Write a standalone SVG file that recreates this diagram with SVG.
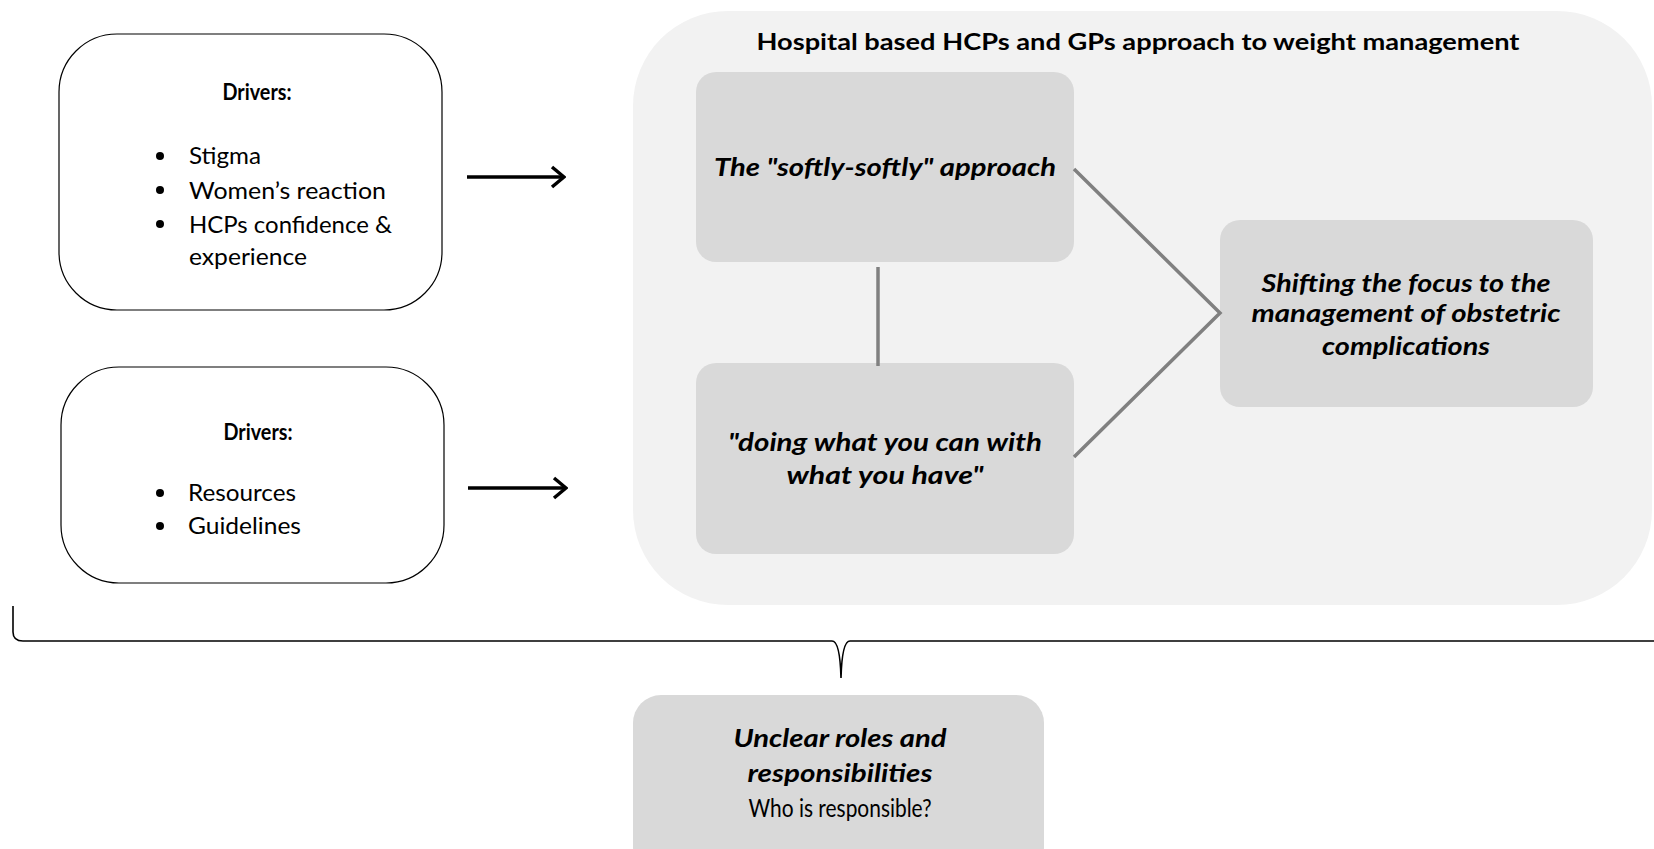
<svg xmlns="http://www.w3.org/2000/svg" width="1654" height="849" viewBox="0 0 1654 849">
  <defs>
    <style>
      .driver { fill: #ffffff; stroke: #000000; stroke-width: 1.2; }
      .theme { fill: #d9d9d9; }
      .panel { fill: #f2f2f2; }
      .t { font-family: Lato, "Liberation Sans", sans-serif; fill: #000000; }
      .b { font-weight: bold; }
      .bi { font-weight: bold; font-style: italic; }
      .reg { font-size: 23px; }
      .big { font-size: 25px; }
      .link { stroke: #808080; stroke-width: 3.5; fill: none; }
      .arrow { stroke: #000000; stroke-width: 3.5; fill: none; }
      .brace { stroke: #000000; stroke-width: 1.6; fill: none; }
    </style>
    <marker id="chevron" viewBox="0 0 16 24" refX="14" refY="12" markerWidth="16" markerHeight="24" markerUnits="userSpaceOnUse" orient="auto">
      <path d="M2,2 L14,12 L2,22" stroke="#000" stroke-width="3.5" fill="none" stroke-linejoin="miter"/>
    </marker>
  </defs>

  <!-- outer panel -->
  <g id="panel">
    <rect class="panel" x="633" y="11" width="1019" height="594" rx="95" ry="95"/>
    <text class="t b" x="1138" y="50" font-size="23" text-anchor="middle" textLength="763" lengthAdjust="spacingAndGlyphs">Hospital based HCPs and GPs approach to weight management</text>
  </g>

  <!-- driver boxes -->
  <g id="drivers-1">
    <rect class="driver" x="59" y="34" width="383" height="276" rx="58" ry="58"/>
    <text class="t b reg" x="257" y="100" text-anchor="middle" textLength="69" lengthAdjust="spacingAndGlyphs">Drivers:</text>
    <circle cx="160" cy="156" r="4"/>
    <circle cx="160" cy="190" r="4"/>
    <circle cx="160" cy="224" r="4"/>
    <text class="t reg" x="189" y="164" textLength="72" lengthAdjust="spacingAndGlyphs">Stigma</text>
    <text class="t reg" x="189" y="199" textLength="197" lengthAdjust="spacingAndGlyphs">Women’s reaction</text>
    <text class="t reg" x="189" y="233" textLength="203" lengthAdjust="spacingAndGlyphs">HCPs confidence &amp;</text>
    <text class="t reg" x="189" y="265" textLength="118" lengthAdjust="spacingAndGlyphs">experience</text>
  </g>

  <g id="drivers-2">
    <rect class="driver" x="61" y="367" width="383" height="216" rx="58" ry="58"/>
    <text class="t b reg" x="258" y="440" text-anchor="middle" textLength="69" lengthAdjust="spacingAndGlyphs">Drivers:</text>
    <circle cx="160" cy="493" r="4"/>
    <circle cx="160" cy="526" r="4"/>
    <text class="t reg" x="188" y="501" textLength="108" lengthAdjust="spacingAndGlyphs">Resources</text>
    <text class="t reg" x="188" y="534" textLength="113" lengthAdjust="spacingAndGlyphs">Guidelines</text>
  </g>

  <!-- theme boxes -->
  <g id="softly">
    <rect class="theme" x="696" y="72" width="378" height="190" rx="20" ry="20"/>
    <text class="t bi big" x="885" y="176" text-anchor="middle" textLength="342" lengthAdjust="spacingAndGlyphs">The "softly-softly" approach</text>
  </g>

  <g id="doing">
    <rect class="theme" x="696" y="363" width="378" height="191" rx="20" ry="20"/>
    <text class="t bi big" x="885" y="451" text-anchor="middle" textLength="314" lengthAdjust="spacingAndGlyphs">"doing what you can with</text>
    <text class="t bi big" x="885" y="484" text-anchor="middle" textLength="197" lengthAdjust="spacingAndGlyphs">what you have"</text>
  </g>

  <g id="shifting">
    <rect class="theme" x="1220" y="220" width="373" height="187" rx="20" ry="20"/>
    <text class="t bi big" x="1406" y="292" text-anchor="middle" textLength="289" lengthAdjust="spacingAndGlyphs">Shifting the focus to the</text>
    <text class="t bi big" x="1406" y="322" text-anchor="middle" textLength="309" lengthAdjust="spacingAndGlyphs">management of obstetric</text>
    <text class="t bi big" x="1406" y="355" text-anchor="middle" textLength="168" lengthAdjust="spacingAndGlyphs">complications</text>
  </g>

  <g id="unclear">
    <rect class="theme" x="633" y="695" width="411" height="180" rx="28" ry="28"/>
    <text class="t bi big" x="840" y="747" text-anchor="middle" textLength="213" lengthAdjust="spacingAndGlyphs">Unclear roles and</text>
    <text class="t bi big" x="840" y="782" text-anchor="middle" textLength="185" lengthAdjust="spacingAndGlyphs">responsibilities</text>
    <text class="t big" x="840" y="817" text-anchor="middle" textLength="183" lengthAdjust="spacingAndGlyphs">Who is responsible?</text>
  </g>

  <!-- connectors -->
  <g id="connectors">
    <line class="arrow" x1="467" y1="177" x2="564" y2="177" marker-end="url(#chevron)"/>
    <line class="arrow" x1="468" y1="488" x2="566" y2="488" marker-end="url(#chevron)"/>
    <polyline class="link" points="1074,169 1220,313 1074,457"/>
    <line class="link" x1="878" y1="267" x2="878" y2="366"/>
    <path class="brace" d="M13,606 L13,632 Q13,641 23,641 L832,641 Q840,641 841,678 Q842,641 850,641 L1654,641"/>
  </g>
</svg>
